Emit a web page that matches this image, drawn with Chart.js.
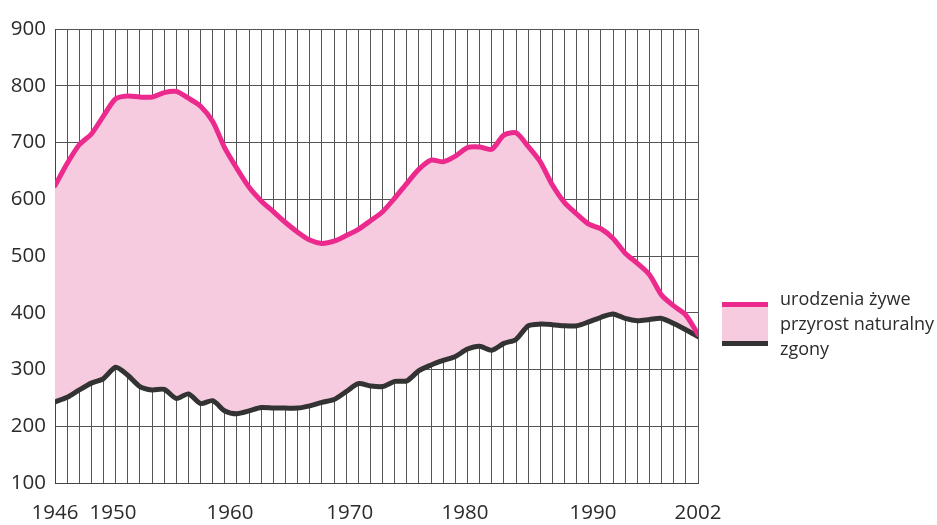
<!DOCTYPE html>
<html lang="pl">
<head>
<meta charset="utf-8">
<script src="https://cdn.jsdelivr.net/npm/chart.js@4/dist/chart.umd.min.js"></script>
<style>
  html, body { margin: 0; padding: 0; background: #fff; }
  #wrap { position: relative; width: 937px; height: 525px; }
  #legend {
    position: absolute; left: 722px; top: 286px;
    font-family: "Open Sans", sans-serif; font-size: 18px; line-height: 25px; color: #2b2b2b;
  }
  #legend .swatch {
    position: absolute; left: 0; top: 16px; width: 46px; height: 44px;
    background: #f6cbdf; border-top: 5px solid #ec2a8d; border-bottom: 5px solid #333;
    box-sizing: border-box;
  }
  #legend .txt { position: absolute; left: 58px; top: 0; white-space: nowrap; }
</style>
</head>
<body>
<div id="wrap">
  <canvas id="chart"></canvas>
  <div id="legend">
    <div class="swatch"></div>
    <div class="txt">urodzenia żywe<br>przyrost naturalny<br>zgony</div>
  </div>
</div>
<script>
// wartości w tys., jeden punkt na każdą pionową linię siatki (0..53)
const births = [624, 663, 696, 715, 747, 777, 782, 780, 780, 788,
  790, 778, 764, 737, 690, 654, 621, 597, 578, 559,
  542, 528, 522, 526, 536, 547, 562, 578, 602, 628,
  653, 669, 666, 676, 691, 692, 688, 713, 717, 693,
  666, 625, 594, 574, 556, 548, 531, 505, 487, 467,
  431, 412, 396, 362];
const deaths = [243, 251, 264, 276, 284, 304, 290, 270, 264, 265,
  249, 257, 240, 245, 227, 222, 227, 233, 232, 232,
  232, 236, 242, 247, 261, 275, 271, 270, 279, 280,
  298, 308, 316, 323, 336, 341, 334, 346, 353, 377,
  380, 379, 377, 377, 384, 392, 398, 390, 386, 388,
  390, 381, 370, 358];
const yearLabels = ['1946', '1950', '1960', '1970', '1980', '1990', '2002'];
const yearTickPos = [0, 4.78, 14.43, 24.3, 33.8, 44.35, 53];
const yTicks = [100, 200, 300, 400, 500, 600, 700, 800, 900];

const gridSteps = births.length - 1;
const toPoints = arr => arr.map((v, i) => ({ x: i, y: v }));
const tickFont = { family: '"Open Sans", sans-serif', size: 20.5 };

new Chart(document.getElementById('chart'), {
  type: 'line',
  data: {
    datasets: [
      {
        label: 'urodzenia żywe',
        data: toPoints(births),
        borderColor: '#ec2a8d',
        backgroundColor: '#f6cbdf',
        borderWidth: 5,
        fill: '+1',
        tension: 0.25
      },
      {
        label: 'zgony',
        data: toPoints(deaths),
        borderColor: '#333333',
        borderWidth: 5,
        fill: false,
        tension: 0.25
      }
    ]
  },
  options: {
    responsive: true,
    maintainAspectRatio: false,
    animation: false,
    layout: { padding: { top: 29, right: 239, left: 0, bottom: 0 } },
    elements: {
      point: { radius: 0, hoverRadius: 0 },
      line: { borderJoinStyle: 'round', borderCapStyle: 'round' }
    },
    plugins: {
      legend: { display: false },
      tooltip: { enabled: false },
      filler: { drawTime: 'beforeDatasetsDraw' }
    },
    scales: {
      x: {
        type: 'linear',
        min: 0,
        max: gridSteps,
        afterBuildTicks: scale => {
          const vals = [];
          for (let i = 0; i <= gridSteps; i++) vals.push(i);
          yearTickPos.forEach(p => { if (!vals.includes(p)) vals.push(p); });
          vals.sort((a, b) => a - b);
          scale.ticks = vals.map(v => ({ value: v }));
        },
        afterFit: scale => { scale.height = 42; },
        grid: {
          color: c => (c.tick && Number.isInteger(c.tick.value)) ? '#555' : 'rgba(0,0,0,0)',
          lineWidth: 1,
          drawTicks: false
        },
        border: { display: true, color: '#444', width: 1 },
        ticks: {
          autoSkip: false,
          maxRotation: 0,
          padding: 18,
          color: '#2b2b2b',
          font: tickFont,
          callback: value => {
            const k = yearTickPos.indexOf(value);
            return k >= 0 ? yearLabels[k] : '';
          }
        }
      },
      y: {
        min: yTicks[0],
        max: yTicks[yTicks.length - 1],
        afterBuildTicks: scale => { scale.ticks = yTicks.map(v => ({ value: v })); },
        afterFit: scale => { scale.width = 55; },
        grid: { color: '#555', lineWidth: 1, drawTicks: false },
        border: { display: true, color: '#444', width: 1 },
        ticks: { padding: 9, color: '#2b2b2b', font: tickFont }
      }
    }
  }
});
</script>
</body>
</html>
